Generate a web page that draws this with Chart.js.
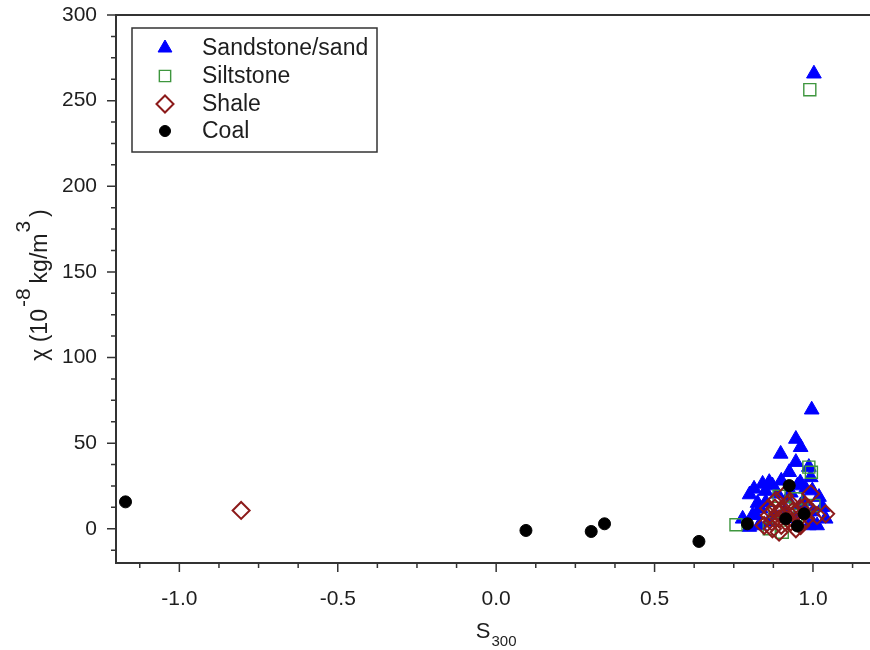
<!DOCTYPE html>
<html>
<head>
<meta charset="utf-8">
<title>Magnetic susceptibility versus S300</title>
<script src="https://cdn.jsdelivr.net/npm/chart.js@4/dist/chart.umd.min.js"></script>
<style>
  html, body { margin: 0; padding: 0; background: #ffffff; overflow: hidden; }
  canvas { display: block; }
</style>
</head>
<body>
<canvas id="chart" width="870" height="650"></canvas>
<script>
// ---- data -------------------------------------------------------------
const seriesNames = ['Sandstone/sand', 'Siltstone', 'Shale', 'Coal'];

const sandstoneS300 = [1.003, 0.996, 0.946, 0.961, 0.898, 0.946, 0.987, 0.925, 0.993, 0.862,
                       0.814, 0.872, 0.841, 0.951, 1.019, 1.030, 1.040, 0.778, 0.851, 0.888,
                       0.977, 0.998, 0.987, 0.830, 1.013, 0.835, 0.919, 0.961, 0.799, 0.880,
                       0.910, 0.940, 0.970, 0.860, 0.900, 0.930, 1.000, 0.820,
                       0.800, 0.825, 0.850, 0.960, 1.000, 0.810];
const sandstoneChi  = [265.7, 69.5, 52.4, 47.6, 43.7, 38.9, 36.0, 33.0, 30.0, 27.2,
                       23.3, 25.2, 26.2, 25.2, 18.5, 12.6, 5.8, 5.8, 15.5, 20.4,
                       23.3, 22.3, 1.9, 1.9, 1.9, 11.7, 17.5, 13.6, 1.0, 8.0,
                       10.0, 6.0, 16.0, 4.0, 28.0, 21.0, 10.0, 8.0,
                       20.0, 15.0, 22.0, 27.0, 3.0, 8.0];

const siltstoneS300 = [0.990, 0.987, 0.995, 0.757, 0.893, 0.946, 1.003, 0.862, 0.903, 0.946, 0.920, 0.880];
const siltstoneChi  = [256.4, 36.0, 33.0, 2.3, 19.0, 17.5, 13.6, 0.0, -2.0, 7.8, 12.0, 10.0];

const shaleS300 = [-0.805, 0.993, 1.040, 1.013, 0.846, 0.872, 0.893, 0.903, 0.925, 0.946, 0.961,
                   0.883, 0.909, 0.977, 0.930, 0.893, 0.987, 0.862, 0.946, 0.915, 0.960, 0.880,
                   0.870, 0.900, 0.935, 0.955, 0.920, 0.890, 0.975, 0.860];
const shaleChi  = [10.7, 20.4, 8.7, 7.8, 1.9, 0.0, 5.8, 11.7, 15.5, 9.7, 1.9,
                   16.5, 19.4, 5.8, 3.9, -2.0, 11.7, 7.8, 0.0, 8.0, 12.0, 12.0,
                   4.0, 2.0, 10.0, 6.0, 14.0, 9.0, 13.0, 12.0];

const coalS300 = [-1.170, 0.094, 0.300, 0.342, 0.640, 0.793, 0.925, 0.914, 0.972, 0.951];
const coalChi  = [15.7, -1.0, -1.6, 2.9, -7.4, 2.9, 25.2, 5.8, 8.7, 1.6];

// ---- axes ---------------------------------------------------------------
const xMajorTicks = [-1.0, -0.5, 0.0, 0.5, 1.0];
const xTickLabels = ['-1.0', '-0.5', '0.0', '0.5', '1.0'];
const xMinorTicks = [-1.125, -0.875, -0.75, -0.625, -0.375, -0.25, -0.125,
                     0.125, 0.25, 0.375, 0.625, 0.75, 0.875, 1.125];

const yMajorTicks = [0, 50, 100, 150, 200, 250, 300];
const yTickLabels = ['0', '50', '100', '150', '200', '250', '300'];
const yMinorTicks = [-12.5, 12.5, 25, 37.5, 62.5, 75, 87.5, 112.5, 125, 137.5,
                     162.5, 175, 187.5, 212.5, 225, 237.5, 262.5, 275, 287.5];

// ---- styling --------------------------------------------------------------
const FONT = '"Liberation Sans", Arial, Helvetica, sans-serif';
const INK = '#1e1e1e';
const AXIS_INK = '#333333';

const styles = [
  { pointStyle: 'triangle', radius: 8.5, fill: '#0000ff', stroke: '#0000ff', width: 1 },
  { pointStyle: 'rect',     radius: 8.5, fill: 'rgba(0,0,0,0)', stroke: '#3e963e', width: 1.4 },
  { pointStyle: 'rectRot',  radius: 8.5, fill: 'rgba(0,0,0,0)', stroke: '#8c1a1a', width: 2 },
  { pointStyle: 'circle',   radius: 6,   fill: '#000000', stroke: '#000000', width: 1 }
];

const toPoints = (xs, ys) => xs.map((x, i) => ({ x: x, y: ys[i] }));
const seriesData = [
  toPoints(sandstoneS300, sandstoneChi),
  toPoints(siltstoneS300, siltstoneChi),
  toPoints(shaleS300, shaleChi),
  toPoints(coalS300, coalChi)
];

// later series sit on top: coal over shale over siltstone over sandstone
const datasets = seriesNames.map((name, i) => ({
  label: name,
  data: seriesData[i],
  order: 3 - i,
  pointStyle: styles[i].pointStyle,
  pointRadius: styles[i].radius,
  pointHoverRadius: styles[i].radius,
  backgroundColor: styles[i].fill,
  borderColor: styles[i].stroke,
  pointBorderWidth: styles[i].width,
  borderWidth: styles[i].width
}));

// rich text helper: parts laid out along the baseline with size and rise
function drawRich(ctx, parts, cx, baseY) {
  let total = 0;
  parts.forEach(p => {
    ctx.font = p.size + 'px ' + FONT;
    p.w = ctx.measureText(p.text).width;
    total += p.w + (p.gap || 0);
  });
  let x = cx - total / 2;
  ctx.textAlign = 'left';
  ctx.textBaseline = 'alphabetic';
  parts.forEach(p => {
    ctx.font = p.size + 'px ' + FONT;
    ctx.fillText(p.text, x + (p.gap || 0), baseY - (p.rise || 0));
    x += p.w + (p.gap || 0);
  });
}

// keep the plot frame fixed: no extra padding reserved by the scales
function noScalePadding(s) {
  s.paddingTop = 0; s.paddingBottom = 0; s.paddingLeft = 0; s.paddingRight = 0;
}

const framePlugin = {
  id: 'frameAndTicks',
  beforeDatasetsDraw(chart) {
    const { ctx, chartArea: a, scales: { x, y } } = chart;
    ctx.save();
    ctx.strokeStyle = AXIS_INK;
    ctx.lineWidth = 2;
    ctx.beginPath();
    ctx.moveTo(a.right, a.top); ctx.lineTo(a.left, a.top);
    ctx.lineTo(a.left, a.bottom); ctx.lineTo(a.right, a.bottom);
    ctx.stroke();

    ctx.lineWidth = 1.5;
    ctx.beginPath();
    xMajorTicks.forEach(v => { const p = x.getPixelForValue(v); ctx.moveTo(p, a.bottom); ctx.lineTo(p, a.bottom + 9); });
    xMinorTicks.forEach(v => { const p = x.getPixelForValue(v); ctx.moveTo(p, a.bottom); ctx.lineTo(p, a.bottom + 5); });
    yMajorTicks.forEach(v => { const p = y.getPixelForValue(v); ctx.moveTo(a.left, p); ctx.lineTo(a.left - 9, p); });
    yMinorTicks.forEach(v => { const p = y.getPixelForValue(v); ctx.moveTo(a.left, p); ctx.lineTo(a.left - 5, p); });
    ctx.stroke();
    ctx.restore();
  },
  afterDraw(chart) {
    const { ctx, scales: { x } } = chart;
    ctx.save();
    ctx.fillStyle = INK;

    // x-axis title: S with subscript 300
    drawRich(ctx, [
      { text: 'S', size: 22 },
      { text: '300', size: 15, rise: -8, gap: 1 }
    ], x.getPixelForValue(0), 638);

    // y-axis title, rotated
    ctx.save();
    ctx.translate(47, 285);
    ctx.rotate(-Math.PI / 2);
    drawRich(ctx, [
      { text: 'χ (10', size: 23 },
      { text: '-8', size: 21, rise: 17, gap: 2 },
      { text: 'kg/m', size: 23, gap: 5 },
      { text: '3', size: 21, rise: 17, gap: 1 },
      { text: ')', size: 23, gap: 4 }
    ], 0, 0);
    ctx.restore();

    // legend box
    const box = { left: 132, top: 28, right: 377, bottom: 152 };
    ctx.strokeStyle = AXIS_INK;
    ctx.lineWidth = 1.5;
    ctx.strokeRect(box.left, box.top, box.right - box.left, box.bottom - box.top);
    const rows = [48, 76, 104, 131];
    const legendRadius = [8, 8, 8.5, 5.5];
    seriesNames.forEach((name, i) => {
      const s = styles[i];
      ctx.fillStyle = s.fill;
      ctx.strokeStyle = s.stroke;
      ctx.lineWidth = s.width;
      Chart.helpers.drawPoint(ctx, { pointStyle: s.pointStyle, radius: legendRadius[i], borderWidth: s.width, rotation: 0 }, 165, rows[i]);
      ctx.fillStyle = INK;
      ctx.font = '23px ' + FONT;
      ctx.textAlign = 'left';
      ctx.textBaseline = 'middle';
      ctx.fillText(name, 202, rows[i] + 1);
    });
    ctx.restore();
  }
};

new Chart(document.getElementById('chart'), {
  type: 'scatter',
  data: { datasets: datasets },
  options: {
    responsive: false,
    animation: false,
    events: [],
    layout: { autoPadding: false, padding: { top: 15, right: 0, bottom: 0, left: 0 } },
    plugins: { legend: { display: false }, tooltip: { enabled: false }, title: { display: false } },
    scales: {
      x: {
        type: 'linear',
        min: -1.2,
        max: 1.18,
        grid: { display: false, drawTicks: false },
        border: { display: false },
        afterBuildTicks: s => { s.ticks = xMajorTicks.map(v => ({ value: v })); },
        afterFit: s => { s.height = 87; noScalePadding(s); },
        ticks: {
          autoSkip: false,
          maxRotation: 0,
          padding: 24,
          color: INK,
          font: { size: 21, family: FONT },
          callback: (v, i) => xTickLabels[i]
        }
      },
      y: {
        type: 'linear',
        min: -20,
        max: 300,
        grid: { display: false, drawTicks: false },
        border: { display: false },
        afterBuildTicks: s => { s.ticks = yMajorTicks.map(v => ({ value: v })); },
        afterFit: s => { s.width = 116; noScalePadding(s); },
        ticks: {
          autoSkip: false,
          padding: 19,
          color: INK,
          font: { size: 21, family: FONT },
          callback: (v, i) => yTickLabels[i]
        }
      }
    }
  },
  plugins: [framePlugin]
});
</script>
</body>
</html>
